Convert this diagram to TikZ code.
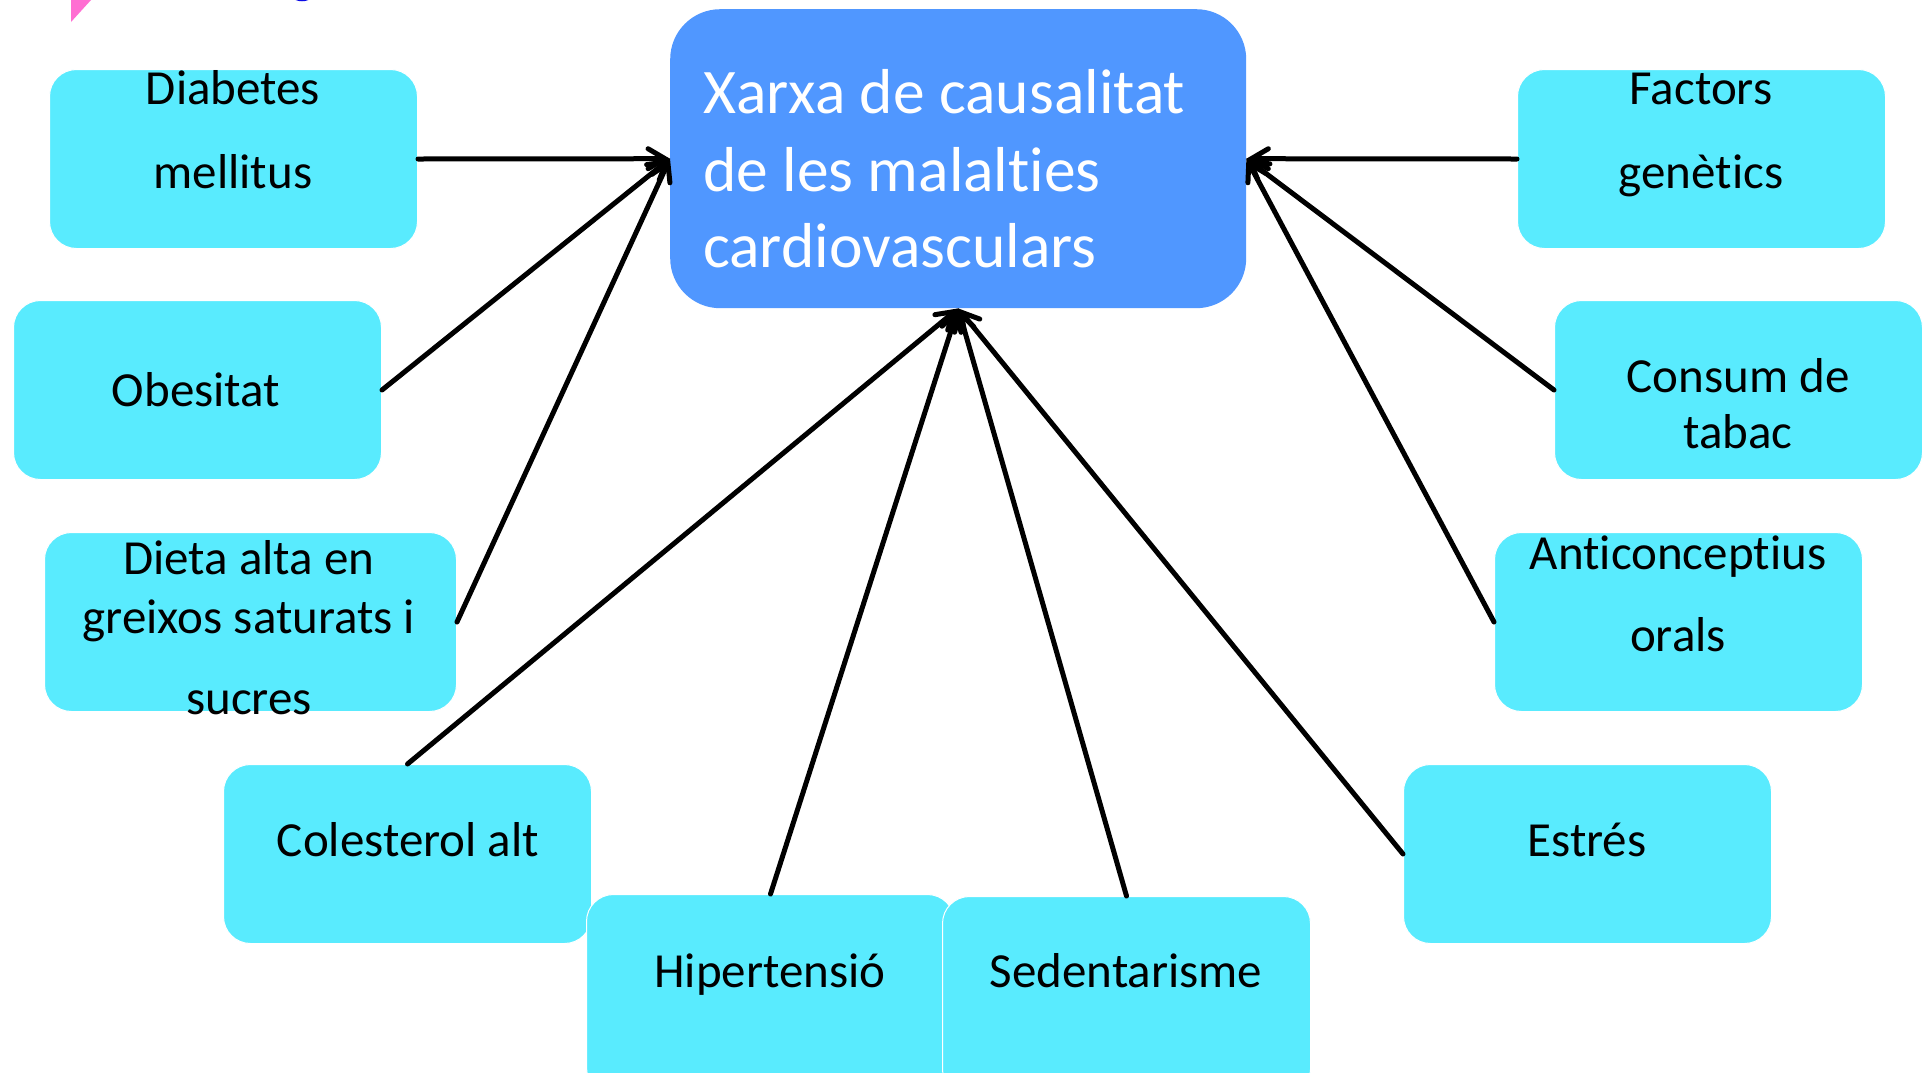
\documentclass[tikz,border=0pt]{standalone}
\usepackage{fontspec}
\setmainfont{Carlito}[RawFeature={-liga;-clig;-dlig;-calt;-rlig}]
\usetikzlibrary{arrows.meta}
\definecolor{cyanbox}{RGB}{89,235,254}
\definecolor{bluebox}{RGB}{80,151,255}
\definecolor{pinkart}{RGB}{255,110,210}
\definecolor{bluart}{RGB}{10,10,230}
\newcommand{\nolig}{\kern0pt }
\begin{document}
\begin{tikzpicture}[x=1pt,y=-1pt,
  cause/.style={draw=white, line width=1pt, fill=cyanbox, rounded corners=27pt,
    minimum width=368pt, minimum height=179pt, inner sep=0pt, anchor=north west},
  lbl/.style={font=\fontsize{49}{58}\selectfont, anchor=base, inner sep=0pt},
  mainlbl/.style={font=\fontsize{63.5}{76}\selectfont, text=white, anchor=base west, inner sep=0pt},
  conn/.style={line width=5pt, line cap=round,
    -{Straight Barb[length=17pt,width=20pt,line cap=round]}}]
\useasboundingbox (0,0) rectangle (1923,1072);
\clip (0,0) rectangle (1923,1072);
\fill[white] (0,0) rectangle (1923,1072);
% stray marks at the top
\fill[pinkart] (71,0) -- (91,0) -- (71,22) -- cycle;
\draw[bluart, line width=2.5pt] (302,-14) ellipse (15pt and 14pt);
% central box
\node[fill=bluebox, rounded corners=50pt, minimum width=576pt, minimum height=299pt,
  inner sep=0pt, anchor=north west] (c) at (670,9) {};
\node[mainlbl] (ct1) at (703,113) {Xarxa de causalitat};
\node[mainlbl] (ct2) at (703,191) {de les malalt\nolig ies};
\node[mainlbl] (ct3) at (703,267) {cardiovasculars};
% cause boxes
\node[cause] (b1) at (49,69) {};
\node[cause] (b2) at (13,300) {};
\node[cause, minimum width=412pt] (b3) at (44,532) {};
\node[cause] (b4) at (223,764) {};
\node[cause, minimum height=200pt] (b5) at (586,894) {};
\node[cause, minimum height=200pt] (b6) at (942,896) {};
\node[cause] (b7) at (1403,764) {};
\node[cause] (b8) at (1494,532) {};
\node[cause] (b9) at (1554,300) {};
\node[cause] (b10) at (1517,69) {};
% labels
\node[lbl] (t1a) at (233,104) {Diabetes};
\node[lbl] (t1b) at (233,188) {mellitus};
\node[lbl] (t2) at (196,406) {Obesitat};
\node[lbl] (t3a) at (249,574) {Dieta alta en};
\node[lbl] (t3b) at (249,633) {greixos saturats i};
\node[lbl] (t3c) at (249,714) {sucres};
\node[lbl] (t4) at (408,856) {Colesterol alt};
\node[lbl] (t5) at (770,987) {Hipertensió};
\node[lbl] (t6) at (1126,987) {Sedentarisme};
\node[lbl] (t7) at (1587,856) {Estrés};
\node[lbl] (t8a) at (1678,569) {Ant\nolig iconcept\nolig ius};
\node[lbl] (t8b) at (1678,651) {orals};
\node[lbl] (t9a) at (1738,392) {Consum de};
\node[lbl] (t9b) at (1738,448) {tabac};
\node[lbl] (t10a) at (1701,104) {Factors};
\node[lbl] (t10b) at (1701,188) {genètics};
% connectors
\draw[conn] (b1.east) -- (c.west);
\draw[conn] (b2.east) -- (c.west);
\draw[conn] (b3.east) -- (c.west);
\draw[conn] (b4.north) -- (c.south);
\draw[conn] (b5.north) -- (c.south);
\draw[conn] (b6.north) -- (c.south);
\draw[conn] (b7.west) -- (c.south);
\draw[conn] (b8.west) -- (c.east);
\draw[conn] (b9.west) -- (c.east);
\draw[conn] (b10.west) -- (c.east);
\end{tikzpicture}
\end{document}
